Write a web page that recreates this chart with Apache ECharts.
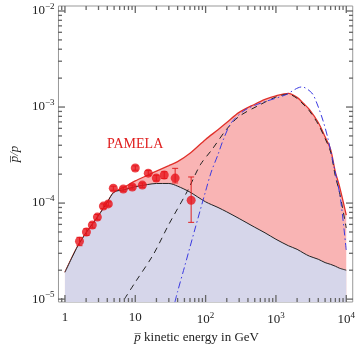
<!DOCTYPE html>
<html>
<head>
<meta charset="utf-8">
<script src="https://cdn.jsdelivr.net/npm/echarts@6/dist/echarts.min.js"></script>
<style>html,body{margin:0;padding:0;background:#fff}#chart{width:358px;height:349px}</style>
</head>
<body>
<div id="chart"></div>
<script>
// energy grid (GeV) shared by the background and total curves
const energy = [1, 1.5, 2, 3, 4, 5, 7, 10, 15, 20, 30, 40, 60, 100, 150, 200, 300, 500, 700, 1000, 1500, 2000, 2500, 3000, 4000, 5000, 6000, 7000, 8000, 10000];
const background = [1.9e-5, 3.5e-5, 4.9e-5, 7.4e-5, 1.02e-4, 1.3e-4, 1.38e-4, 1.48e-4, 1.56e-4, 1.6e-4, 1.6e-4, 1.5e-4, 1.3e-4, 1.03e-4, 9.0e-5, 8.1e-5, 6.9e-5, 5.6e-5, 4.9e-5, 4.2e-5, 3.6e-5, 3.3e-5, 3.0e-5, 2.8e-5, 2.6e-5, 2.4e-5, 2.3e-5, 2.2e-5, 2.1e-5, 2.0e-5];
const total = [1.9e-5, 3.5e-5, 4.9e-5, 7.4e-5, 1.02e-4, 1.3e-4, 1.47e-4, 1.7e-4, 1.95e-4, 2.15e-4, 2.45e-4, 2.7e-4, 3.3e-4, 4.6e-4, 5.8e-4, 6.9e-4, 8.8e-4, 1.07e-3, 1.2e-3, 1.31e-3, 1.39e-3, 1.26e-3, 1.08e-3, 9.4e-4, 6.9e-4, 4.9e-4, 3.6e-4, 2.1e-4, 1.5e-4, 7.5e-5];

// dark matter component (black dashed)
const dmE = [7, 10, 18, 30, 55, 84, 123, 200, 300, 555, 1000, 1500, 2000, 2500, 3000, 4000, 5000, 6000, 7000, 8000, 10000];
const dmV = [1.0e-5, 1.5e-5, 2.9e-5, 6.0e-5, 1.33e-4, 2.5e-4, 3.6e-4, 5.9e-4, 8.0e-4, 1.03e-3, 1.27e-3, 1.36e-3, 1.23e-3, 1.05e-3, 9.1e-4, 6.6e-4, 4.7e-4, 3.4e-4, 1.9e-4, 1.3e-4, 5.5e-5];

// alternative model (blue dash-dot)
const altE = [36.6, 40, 50, 70, 100, 120, 150, 177, 230, 363, 612, 1340, 2340, 3240, 3810, 4650, 5470, 6870, 8220, 10000];
const altV = [9.3e-6, 1.2e-5, 2.15e-5, 5.25e-5, 1.33e-4, 2.1e-4, 3.2e-4, 4.5e-4, 6.8e-4, 9.3e-4, 1.1e-3, 1.33e-3, 1.62e-3, 1.4e-3, 1.1e-3, 7.3e-4, 4.75e-4, 2.2e-4, 1.15e-4, 3.2e-5];

// PAMELA points
const pamE = [1.61, 2.02, 2.45, 2.89, 3.52, 4.14, 4.87, 6.76, 9.07, 10.0, 12.6, 15.3, 19.9, 25.8, 36.9, 62.3];
const pamV = [4.0e-5, 5.0e-5, 5.9e-5, 7.15e-5, 9.3e-5, 9.8e-5, 1.43e-4, 1.4e-4, 1.47e-4, 2.32e-4, 1.54e-4, 2.05e-4, 1.82e-4, 1.96e-4, 1.82e-4, 1.07e-4];
const pamLo = [3.6e-5, 4.6e-5, 5.5e-5, 6.7e-5, 8.8e-5, 9.3e-5, 1.36e-4, 1.33e-4, 1.4e-4, 2.2e-4, 1.46e-4, 1.93e-4, 1.7e-4, 1.8e-4, 1.62e-4, 6.3e-5];
const pamHi = [4.4e-5, 5.4e-5, 6.3e-5, 7.6e-5, 9.8e-5, 1.03e-4, 1.5e-4, 1.47e-4, 1.54e-4, 2.44e-4, 1.62e-4, 2.18e-4, 1.95e-4, 2.12e-4, 2.3e-4, 1.87e-4];

const xMajor = [1, 10, 100, 1000, 10000];
const yMajor = [1e-5, 1e-4, 1e-3, 1e-2];

const xMin = Math.pow(10, -0.092), xMax = Math.pow(10, 4.092);
const yMin = Math.pow(10, -5.03), yMax = Math.pow(10, -1.948);

const xMinor = [0.9];
for (let d = 0; d < 4; d++) for (let k = 2; k <= 9; k++) xMinor.push(+(k * Math.pow(10, d)).toPrecision(3));
const yMinor = [];
for (let e = -5; e < -2; e++) for (let k = 2; k <= 9; k++) yMinor.push(+(k * Math.pow(10, e)).toPrecision(3));

const font = 'Liberation Serif';
const frame = '#999';
const W = 358, H = 349;
const G = { left: 58, top: 6, right: 5, bottom: 47 };

function pairs(xs, ys) { return xs.map((x, i) => [x, ys[i]]); }

function xLabel(v) {
  const e = Math.round(Math.log10(v));
  if (e === 0) return '{b|1}';
  if (e === 1) return '{b|10}';
  return '{b|10}{s|' + e + '}';
}
function yLabel(v) {
  const e = Math.round(Math.log10(v));
  return '{b|10}{s|\u2212' + (-e) + '}';
}
const rich = {
  b: { fontFamily: font, fontSize: 13, color: '#222' },
  s: { fontFamily: font, fontSize: 9, color: '#222', verticalAlign: 'bottom', padding: [0, 0, 8, 0] }
};

const labels = [
  { type: 'text', left: 107, top: 137, style: { text: 'PAMELA', fill: '#e02020', font: '14px "Liberation Serif"' } },
  { type: 'text', left: 100, top: 243, style: { text: 'background?', fill: '#1a1a2a', font: '13px "Liberation Serif"' } }
];

const chart = echarts.init(document.getElementById('chart'));
chart.setOption({
  animation: false,
  grid: { left: G.left, top: G.top, right: G.right, bottom: G.bottom, show: true, borderColor: frame, borderWidth: 1, backgroundColor: 'transparent' },
  xAxis: {
    type: 'log', min: xMin, max: xMax,
    axisLine: { show: false }, splitLine: { show: false }, axisTick: { show: false },
    axisLabel: { customValues: xMajor, formatter: xLabel, rich: rich, margin: 9 },
    name: '{i|p\u0305} kinetic energy in GeV',
    nameLocation: 'middle', nameGap: 27,
    nameTextStyle: { fontFamily: font, fontSize: 13, color: '#222', padding: [0, 18, 0, 0], rich: { i: { fontFamily: font, fontSize: 13, fontStyle: 'italic', color: '#222' } } }
  },
  yAxis: {
    type: 'log', min: yMin, max: yMax,
    axisLine: { show: false }, splitLine: { show: false }, axisTick: { show: false },
    axisLabel: { customValues: yMajor, formatter: yLabel, rich: rich, margin: 4 },
    name: 'p\u0305/p',
    nameLocation: 'middle', nameGap: 36, nameRotate: 90,
    nameTextStyle: { fontFamily: font, fontSize: 13, fontStyle: 'italic', color: '#222' }
  },
  series: [
    {
      type: 'line', data: pairs(energy, total), smooth: 0.3, symbol: 'none', z: 1,
      lineStyle: { color: '#e0302a', width: 1.3 },
      areaStyle: { color: '#f9b4b4', opacity: 1, origin: 'start' }
    },
    {
      type: 'line', data: pairs(energy, background), smooth: 0.3, symbol: 'none', z: 2,
      lineStyle: { color: '#222', width: 1 },
      areaStyle: { color: '#d6d6ea', opacity: 1, origin: 'start' }
    },
    {
      type: 'line', data: pairs(dmE, dmV), smooth: 0.3, symbol: 'none', z: 3,
      lineStyle: { color: '#222', width: 1, type: [6, 5] }
    },
    {
      type: 'line', data: pairs(altE, altV), smooth: 0.3, symbol: 'none', z: 3,
      lineStyle: { color: '#3a3ae0', width: 1, type: [7, 3, 1.5, 3] }
    },
    {
      type: 'custom', z: 4,
      data: pamE.map((e, i) => [e, pamLo[i], pamHi[i]]),
      renderItem: function (params, api) {
        const lo = api.coord([api.value(0), api.value(1)]);
        const hi = api.coord([api.value(0), api.value(2)]);
        const st = { stroke: '#e02020', lineWidth: 1 };
        return {
          type: 'group', children: [
            { type: 'line', shape: { x1: lo[0], y1: lo[1], x2: hi[0], y2: hi[1] }, style: st },
            { type: 'line', shape: { x1: lo[0] - 3, y1: lo[1], x2: lo[0] + 3, y2: lo[1] }, style: st },
            { type: 'line', shape: { x1: hi[0] - 3, y1: hi[1], x2: hi[0] + 3, y2: hi[1] }, style: st }
          ]
        };
      }
    },
    {
      type: 'scatter', data: pairs(pamE, pamV), symbol: 'circle', symbolSize: 9, z: 5,
      itemStyle: { color: '#e8141b' }
    }
  ]
});

// frame ticks on all four sides, placed through the chart's own axes
const gl = G.left, gr = W - G.right, gt = G.top, gb = H - G.bottom;
const ticks = [];
function tick(x1, y1, x2, y2) {
  ticks.push({ type: 'line', z: 100, shape: { x1: x1, y1: y1, x2: x2, y2: y2 }, style: { stroke: '#666', lineWidth: 1.3 } });
}
function addX(v, len) {
  const x = chart.convertToPixel({ xAxisIndex: 0 }, v);
  tick(x, gb, x, gb - len);
  tick(x, gt, x, gt + len);
}
function addY(v, len) {
  const y = chart.convertToPixel({ yAxisIndex: 0 }, v);
  tick(gl, y, gl + len, y);
  tick(gr, y, gr - len, y);
}
xMajor.forEach(v => addX(v, 7));
xMinor.forEach(v => addX(v, 4));
yMajor.forEach(v => addY(v, 7));
yMinor.forEach(v => addY(v, 4));
chart.setOption({ graphic: { elements: ticks.concat(labels) } });
</script>
</body>
</html>
